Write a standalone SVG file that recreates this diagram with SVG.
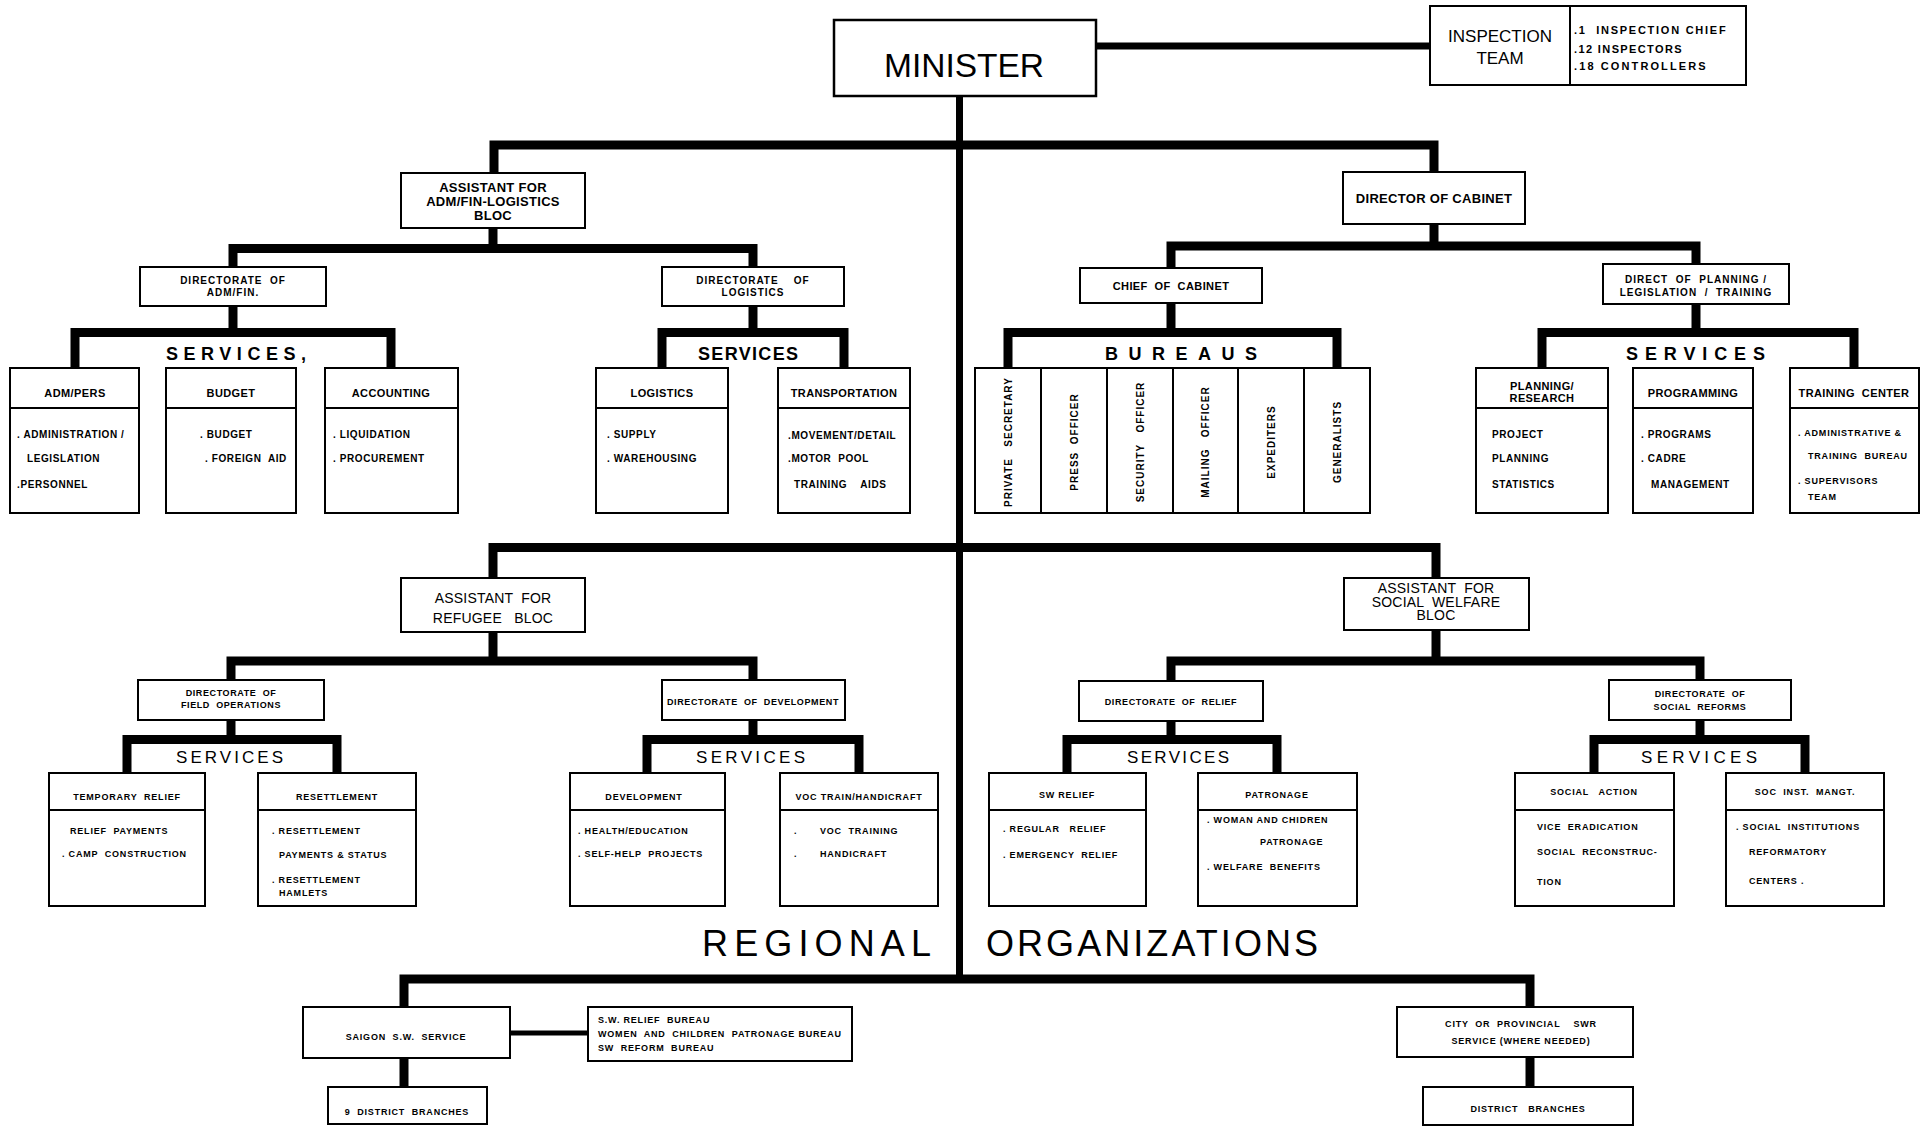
<svg xmlns="http://www.w3.org/2000/svg" width="1925" height="1127" viewBox="0 0 1925 1127">
<style>
text{font-family:"Liberation Sans",Arial,sans-serif;fill:#000;white-space:pre}
.box{fill:#fff;stroke:#000;stroke-width:2}
.ln{fill:none;stroke:#000;stroke-width:2}
.c{fill:none;stroke:#000;stroke-width:9;stroke-linejoin:miter}
.m{text-anchor:middle}
.b10{font-size:10px;font-weight:bold;letter-spacing:0.6px}
.h11{font-size:11px;font-weight:bold;letter-spacing:0.4px}
.b9{font-size:9px;font-weight:bold;letter-spacing:0.8px}
.d10{font-size:10px;font-weight:bold;letter-spacing:1px}
.d9{font-size:9px;font-weight:bold;letter-spacing:0.6px}
.a13{font-size:13px;font-weight:bold;letter-spacing:0.3px}
.r14{font-size:14px;letter-spacing:0.2px}
.s1{font-size:18px;font-weight:bold}
.s2{font-size:17px}
.big{font-size:36px}
</style>
<g id="connectors">
<path class="c" d="M959.5,96 V983" style="stroke-width:7"/>
<path class="c" d="M1096,46 H1430" style="stroke-width:7"/>
<path class="c" d="M494,173 V145 H1434 V172"/>
<path class="c" d="M493,228 V249"/>
<path class="c" d="M233,267 V248.5 H753 V267"/>
<path class="c" d="M233,306 V333"/>
<path class="c" d="M75,368 V332.5 H391 V368"/>
<path class="c" d="M753,306 V333"/>
<path class="c" d="M662,368 V332.5 H844 V368"/>
<path class="c" d="M1434,224 V247"/>
<path class="c" d="M1171,268 V246 H1696 V264"/>
<path class="c" d="M1171,303 V333"/>
<path class="c" d="M1008,368 V332.5 H1337 V368"/>
<path class="c" d="M1696,304 V333"/>
<path class="c" d="M1542,368 V332.5 H1854 V368"/>
<path class="c" d="M493,578 V547.5 H1436 V578"/>
<path class="c" d="M493,632 V662"/>
<path class="c" d="M231,680 V661 H753 V680"/>
<path class="c" d="M231,720 V740"/>
<path class="c" d="M127,773 V739.5 H337 V773"/>
<path class="c" d="M753,720 V740"/>
<path class="c" d="M647,773 V739.5 H859 V773"/>
<path class="c" d="M1436,630 V662"/>
<path class="c" d="M1171,680 V661 H1700 V680"/>
<path class="c" d="M1171,721 V740"/>
<path class="c" d="M1067,773 V739.5 H1277 V773"/>
<path class="c" d="M1700,720 V740"/>
<path class="c" d="M1594,773 V739.5 H1805 V773"/>
<path class="c" d="M404,1007 V979 H1530 V1007"/>
<path class="c" d="M404,1058 V1087"/>
<path class="c" d="M1530,1057 V1087"/>
<path class="c" d="M510,1033 H588" style="stroke-width:5"/>
</g>
<g id="minister">
<rect class="box" x="834" y="20" width="262" height="76" style="stroke-width:2.5"/>
<text x="884" y="77" style="font-size:34px" textLength="160" lengthAdjust="spacingAndGlyphs">MINISTER</text>
</g>
<g id="inspection-team">
<rect class="box" x="1430" y="6" width="316" height="79"/>
<line class="ln" x1="1570" y1="6" x2="1570" y2="85"/>
<text class="m" x="1500" y="42" style="font-size:17px">INSPECTION</text>
<text class="m" x="1500" y="64" style="font-size:17px">TEAM</text>
<text class="h11" x="1574" y="34" textLength="152">.1  INSPECTION CHIEF</text>
<text class="h11" x="1574" y="53" textLength="108">.12 INSPECTORS</text>
<text class="h11" x="1574" y="70" textLength="132">.18 CONTROLLERS</text>
</g>
<g id="asst-admfin">
<rect class="box" x="401" y="173" width="184" height="55"/>
<text class="a13 m" x="493" y="192">ASSISTANT FOR</text>
<text class="a13 m" x="493" y="206">ADM/FIN-LOGISTICS</text>
<text class="a13 m" x="493" y="220">BLOC</text>
</g>
<g id="director-cabinet">
<rect class="box" x="1343" y="172" width="182" height="52"/>
<text class="a13 m" x="1434" y="203">DIRECTOR OF CABINET</text>
</g>
<g id="dir-admfin">
<rect class="box" x="140" y="267" width="186" height="39"/>
<text class="d10 m" x="233" y="284">DIRECTORATE  OF</text>
<text class="d10 m" x="233" y="296">ADM/FIN.</text>
</g>
<g id="dir-logistics">
<rect class="box" x="662" y="267" width="182" height="39"/>
<text class="d10 m" x="753" y="284">DIRECTORATE    OF</text>
<text class="d10 m" x="753" y="296">LOGISTICS</text>
</g>
<g id="chief-cabinet">
<rect class="box" x="1080" y="268" width="182" height="35"/>
<text class="h11 m" x="1171" y="290">CHIEF  OF  CABINET</text>
</g>
<g id="dir-planning">
<rect class="box" x="1603" y="264" width="186" height="40"/>
<text class="d10 m" x="1696" y="283">DIRECT  OF  PLANNING /</text>
<text class="d10 m" x="1696" y="296">LEGISLATION  /  TRAINING</text>
</g>
<g id="services-labels-top">
<text class="s1" x="166" y="360" textLength="140" lengthAdjust="spacing">SERVICES,</text>
<text class="s1" x="698" y="360" textLength="100" lengthAdjust="spacing">SERVICES</text>
<text class="s1" x="1105" y="360" textLength="152" lengthAdjust="spacing">BUREAUS</text>
<text class="s1" x="1626" y="360" textLength="139" lengthAdjust="spacing">SERVICES</text>
</g>
<g id="svc-admpers">
<rect class="box" x="10" y="368" width="129" height="145"/>
<line class="ln" x1="10" y1="408" x2="139" y2="408"/>
<text class="h11 m" x="75" y="397">ADM/PERS</text>
<text class="b10" x="17" y="438">. ADMINISTRATION /</text>
<text class="b10" x="27" y="462">LEGISLATION</text>
<text class="b10" x="17" y="488">.PERSONNEL</text>
</g>
<g id="svc-budget">
<rect class="box" x="166" y="368" width="130" height="145"/>
<line class="ln" x1="166" y1="408" x2="296" y2="408"/>
<text class="h11 m" x="231" y="397">BUDGET</text>
<text class="b10" x="200" y="438">. BUDGET</text>
<text class="b10" x="205" y="462">. FOREIGN  AID</text>
</g>
<g id="svc-accounting">
<rect class="box" x="325" y="368" width="133" height="145"/>
<line class="ln" x1="325" y1="408" x2="458" y2="408"/>
<text class="h11 m" x="391" y="397">ACCOUNTING</text>
<text class="b10" x="333" y="438">. LIQUIDATION</text>
<text class="b10" x="333" y="462">. PROCUREMENT</text>
</g>
<g id="svc-logistics">
<rect class="box" x="596" y="368" width="132" height="145"/>
<line class="ln" x1="596" y1="408" x2="728" y2="408"/>
<text class="h11 m" x="662" y="397">LOGISTICS</text>
<text class="b10" x="607" y="438">. SUPPLY</text>
<text class="b10" x="607" y="462">. WAREHOUSING</text>
</g>
<g id="svc-transportation">
<rect class="box" x="778" y="368" width="132" height="145"/>
<line class="ln" x1="778" y1="408" x2="910" y2="408"/>
<text class="h11 m" x="844" y="397">TRANSPORTATION</text>
<text class="b10" x="788" y="439">.MOVEMENT/DETAIL</text>
<text class="b10" x="788" y="462">.MOTOR  POOL</text>
<text class="b10" x="794" y="488">TRAINING    AIDS</text>
</g>
<g id="bureaus">
<rect class="box" x="975" y="368" width="395" height="145"/>
<line class="ln" x1="1041" y1="368" x2="1041" y2="513"/>
<line class="ln" x1="1107" y1="368" x2="1107" y2="513"/>
<line class="ln" x1="1173" y1="368" x2="1173" y2="513"/>
<line class="ln" x1="1238" y1="368" x2="1238" y2="513"/>
<line class="ln" x1="1304" y1="368" x2="1304" y2="513"/>
<text class="d10 m" transform="translate(1012,442) rotate(-90)">PRIVATE   SECRETARY</text>
<text class="d10 m" transform="translate(1078,442) rotate(-90)">PRESS  OFFICER</text>
<text class="d10 m" transform="translate(1144,442) rotate(-90)">SECURITY   OFFICER</text>
<text class="d10 m" transform="translate(1209,442) rotate(-90)">MAILING   OFFICER</text>
<text class="d10 m" transform="translate(1275,442) rotate(-90)">EXPEDITERS</text>
<text class="d10 m" transform="translate(1341,442) rotate(-90)">GENERALISTS</text>
</g>
<g id="svc-planning-research">
<rect class="box" x="1476" y="368" width="132" height="145"/>
<line class="ln" x1="1476" y1="408" x2="1608" y2="408"/>
<text class="h11 m" x="1542" y="390">PLANNING/</text>
<text class="h11 m" x="1542" y="402">RESEARCH</text>
<text class="b10" x="1492" y="438">PROJECT</text>
<text class="b10" x="1492" y="462">PLANNING</text>
<text class="b10" x="1492" y="488">STATISTICS</text>
</g>
<g id="svc-programming">
<rect class="box" x="1633" y="368" width="120" height="145"/>
<line class="ln" x1="1633" y1="408" x2="1753" y2="408"/>
<text class="h11 m" x="1693" y="397">PROGRAMMING</text>
<text class="b10" x="1641" y="438">. PROGRAMS</text>
<text class="b10" x="1641" y="462">. CADRE</text>
<text class="b10" x="1651" y="488">MANAGEMENT</text>
</g>
<g id="svc-training-center">
<rect class="box" x="1790" y="368" width="129" height="145"/>
<line class="ln" x1="1790" y1="408" x2="1919" y2="408"/>
<text class="h11 m" x="1854" y="397">TRAINING  CENTER</text>
<text class="b9" x="1798" y="436">. ADMINISTRATIVE &amp;</text>
<text class="b9" x="1808" y="459">TRAINING  BUREAU</text>
<text class="b9" x="1798" y="484">. SUPERVISORS</text>
<text class="b9" x="1808" y="500">TEAM</text>
</g>
<g id="asst-refugee">
<rect class="box" x="401" y="578" width="184" height="54"/>
<text class="r14 m" x="493" y="603">ASSISTANT  FOR</text>
<text class="r14 m" x="493" y="623">REFUGEE   BLOC</text>
</g>
<g id="asst-social-welfare">
<rect class="box" x="1344" y="578" width="185" height="52"/>
<text class="r14 m" x="1436" y="593">ASSISTANT  FOR</text>
<text class="r14 m" x="1436" y="607">SOCIAL  WELFARE</text>
<text class="r14 m" x="1436" y="620">BLOC</text>
</g>
<g id="dir-field-operations">
<rect class="box" x="138" y="680" width="186" height="40"/>
<text class="d9 m" x="231" y="696">DIRECTORATE  OF</text>
<text class="d9 m" x="231" y="708">FIELD  OPERATIONS</text>
</g>
<g id="dir-development">
<rect class="box" x="662" y="680" width="183" height="40"/>
<text class="d9 m" x="753" y="705">DIRECTORATE  OF  DEVELOPMENT</text>
</g>
<g id="dir-relief">
<rect class="box" x="1079" y="681" width="184" height="40"/>
<text class="d9 m" x="1171" y="705">DIRECTORATE  OF  RELIEF</text>
</g>
<g id="dir-social-reforms">
<rect class="box" x="1609" y="680" width="182" height="40"/>
<text class="d9 m" x="1700" y="697">DIRECTORATE  OF</text>
<text class="d9 m" x="1700" y="710">SOCIAL  REFORMS</text>
</g>
<g id="services-labels-middle">
<text class="s2" x="176" y="763" textLength="107" lengthAdjust="spacing">SERVICES</text>
<text class="s2" x="696" y="763" textLength="109" lengthAdjust="spacing">SERVICES</text>
<text class="s2" x="1127" y="763" textLength="102" lengthAdjust="spacing">SERVICES</text>
<text class="s2" x="1641" y="763" textLength="116" lengthAdjust="spacing">SERVICES</text>
</g>
<g id="svc-temporary-relief">
<rect class="box" x="49" y="773" width="156" height="133"/>
<line class="ln" x1="49" y1="810" x2="205" y2="810"/>
<text class="b9 m" x="127" y="800">TEMPORARY  RELIEF</text>
<text class="b9" x="70" y="834">RELIEF  PAYMENTS</text>
<text class="b9" x="62" y="857">. CAMP  CONSTRUCTION</text>
</g>
<g id="svc-resettlement">
<rect class="box" x="258" y="773" width="158" height="133"/>
<line class="ln" x1="258" y1="810" x2="416" y2="810"/>
<text class="b9 m" x="337" y="800">RESETTLEMENT</text>
<text class="b9" x="272" y="834">. RESETTLEMENT</text>
<text class="b9" x="279" y="858">PAYMENTS &amp; STATUS</text>
<text class="b9" x="272" y="883">. RESETTLEMENT</text>
<text class="b9" x="279" y="896">HAMLETS</text>
</g>
<g id="svc-development">
<rect class="box" x="570" y="773" width="155" height="133"/>
<line class="ln" x1="570" y1="810" x2="725" y2="810"/>
<text class="b9 m" x="644" y="800">DEVELOPMENT</text>
<text class="b9" x="578" y="834">. HEALTH/EDUCATION</text>
<text class="b9" x="578" y="857">. SELF-HELP  PROJECTS</text>
</g>
<g id="svc-voc-train">
<rect class="box" x="780" y="773" width="158" height="133"/>
<line class="ln" x1="780" y1="810" x2="938" y2="810"/>
<text class="b9 m" x="859" y="800">VOC TRAIN/HANDICRAFT</text>
<text class="b9" x="794" y="834">.<tspan x="820">VOC  TRAINING</tspan></text>
<text class="b9" x="794" y="857">.<tspan x="820">HANDICRAFT</tspan></text>
</g>
<g id="svc-sw-relief">
<rect class="box" x="989" y="773" width="157" height="133"/>
<line class="ln" x1="989" y1="810" x2="1146" y2="810"/>
<text class="b9 m" x="1067" y="798">SW RELIEF</text>
<text class="b9" x="1003" y="832">. REGULAR   RELIEF</text>
<text class="b9" x="1003" y="858">. EMERGENCY  RELIEF</text>
</g>
<g id="svc-patronage">
<rect class="box" x="1198" y="773" width="159" height="133"/>
<line class="ln" x1="1198" y1="810" x2="1357" y2="810"/>
<text class="b9 m" x="1277" y="798">PATRONAGE</text>
<text class="b9" x="1207" y="823">. WOMAN AND CHIDREN</text>
<text class="b9" x="1260" y="845">PATRONAGE</text>
<text class="b9" x="1207" y="870">. WELFARE  BENEFITS</text>
</g>
<g id="svc-social-action">
<rect class="box" x="1515" y="773" width="159" height="133"/>
<line class="ln" x1="1515" y1="810" x2="1674" y2="810"/>
<text class="b9 m" x="1594" y="795">SOCIAL   ACTION</text>
<text class="b9" x="1537" y="830">VICE  ERADICATION</text>
<text class="b9" x="1537" y="855">SOCIAL  RECONSTRUC-</text>
<text class="b9" x="1537" y="885">TION</text>
</g>
<g id="svc-soc-inst">
<rect class="box" x="1726" y="773" width="158" height="133"/>
<line class="ln" x1="1726" y1="810" x2="1884" y2="810"/>
<text class="b9 m" x="1805" y="795">SOC  INST.  MANGT.</text>
<text class="b9" x="1736" y="830">. SOCIAL  INSTITUTIONS</text>
<text class="b9" x="1749" y="855">REFORMATORY</text>
<text class="b9" x="1749" y="884">CENTERS .</text>
</g>
<g id="regional-title">
<text class="big" x="702" y="956" textLength="229" lengthAdjust="spacing">REGIONAL</text>
<text class="big" x="986" y="956" textLength="332" lengthAdjust="spacing">ORGANIZATIONS</text>
</g>
<g id="saigon-sw-service">
<rect class="box" x="303" y="1007" width="207" height="51"/>
<text class="b9 m" x="406" y="1040">SAIGON  S.W.  SERVICE</text>
</g>
<g id="saigon-bureaus">
<rect class="box" x="588" y="1007" width="264" height="54"/>
<text class="b9" x="598" y="1023">S.W. RELIEF  BUREAU</text>
<text class="b9" x="598" y="1037">WOMEN  AND  CHILDREN  PATRONAGE BUREAU</text>
<text class="b9" x="598" y="1051">SW  REFORM  BUREAU</text>
</g>
<g id="saigon-district-branches">
<rect class="box" x="328" y="1087" width="159" height="37"/>
<text class="b9 m" x="407" y="1115">9  DISTRICT  BRANCHES</text>
</g>
<g id="city-provincial-service">
<rect class="box" x="1397" y="1007" width="236" height="50"/>
<text class="b9 m" x="1521" y="1027">CITY  OR  PROVINCIAL    SWR</text>
<text class="b9 m" x="1521" y="1044">SERVICE (WHERE NEEDED)</text>
</g>
<g id="district-branches">
<rect class="box" x="1423" y="1087" width="210" height="38"/>
<text class="b9 m" x="1528" y="1112">DISTRICT   BRANCHES</text>
</g>
</svg>
